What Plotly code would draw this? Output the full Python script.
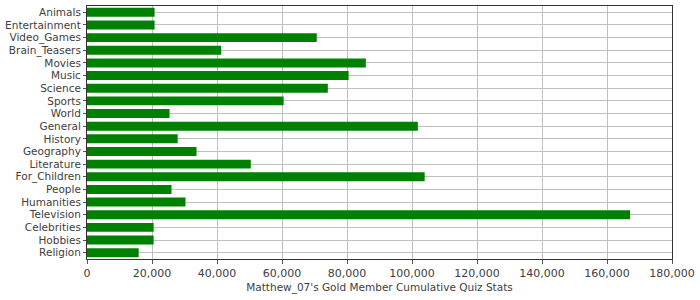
import plotly.graph_objects as go

categories = ["Animals", "Entertainment", "Video_Games", "Brain_Teasers", "Movies", "Music",
              "Science", "Sports", "World", "General", "History", "Geography", "Literature",
              "For_Children", "People", "Humanities", "Television", "Celebrities", "Hobbies", "Religion"]
values = [20800, 20800, 70700, 41300, 85800, 80500, 74100, 60500, 25400, 101800, 27900, 33700,
          50400, 103900, 26000, 30300, 167100, 20500, 20500, 15900]
x_ticks = [0, 20000, 40000, 60000, 80000, 100000, 120000, 140000, 160000, 180000]
x_title = "Matthew_07's Gold Member Cumulative Quiz Stats"

font = dict(family="DejaVu Sans", size=10.5, color="#404040")
xfont = dict(family="DejaVu Sans", size=11, color="#404040")

fig = go.Figure(go.Bar(
    x=values, y=categories, orientation="h",
    marker=dict(color="#008000", line=dict(width=0)),
))
fig.update_layout(
    width=700, height=300,
    margin=dict(l=87, r=28, t=6, b=41),
    paper_bgcolor="white", plot_bgcolor="white",
    bargap=0.29, showlegend=False, font=font,
)
fig.update_xaxes(
    range=[0, 180000], tickvals=x_ticks, tickformat=",d",
    showgrid=True, gridcolor="#c0c0c0", gridwidth=1,
    showline=True, linecolor="#333333", linewidth=1, mirror=True,
    ticks="outside", ticklen=4, tickcolor="#555555",
    title=dict(text=x_title, font=font, standoff=4),
    zeroline=False, tickfont=xfont, automargin=False,
)
fig.update_yaxes(
    autorange="reversed", categoryorder="array", categoryarray=categories,
    tickmode="array", tickvals=categories, ticktext=categories,
    showgrid=True, gridcolor="#c0c0c0", gridwidth=1,
    showline=True, linecolor="#333333", linewidth=1, mirror=True,
    ticks="outside", ticklen=3, tickcolor="#555555", tickfont=font,
    automargin=False,
)
fig.write_html("out.html")
